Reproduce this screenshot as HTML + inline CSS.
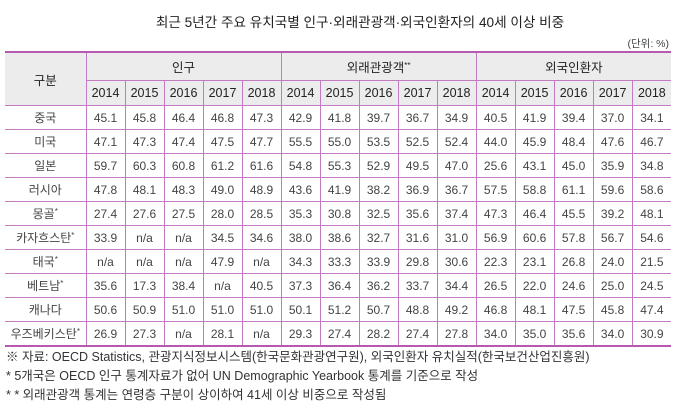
<!DOCTYPE html>
<html><head><meta charset="utf-8"><style>
body{margin:0;width:680px;height:413px;background:#fff;font-family:"Liberation Sans","Noto Sans CJK KR",sans-serif;color:#3a3a3a;overflow:hidden;position:relative}
.t{position:absolute;top:11px;left:0;width:680px;text-align:center;font-size:13.6px;color:#222;padding-left:40px;box-sizing:border-box}
.u{position:absolute;top:36px;right:11px;font-size:10.5px;color:#444}
table{position:absolute;left:5px;top:51px;border-collapse:collapse;table-layout:fixed;width:665px}
td{border:1px solid #c47ac0;text-align:center;font-size:12px;height:23px;padding:0;color:#444}
tr.h td{background:#ececec;color:#222;font-size:12.5px}
tr.h1 td{height:27px}
tr.h2 td{height:24px}
table{border-top:2px solid #b55aae;border-bottom:2px solid #b55aae}
td:first-child{border-left:none}
td.last{border-right:none}
sup{font-size:8px;vertical-align:4px}
.f{position:absolute;left:6px;font-size:12.5px;color:#333}
</style></head><body>
<div class="t">최근 5년간 주요 유치국별 인구·외래관광객·외국인환자의 40세 이상 비중</div>
<div class="u">(단위: %)</div>
<table>
<colgroup><col style="width:81px"><col span="15" style="width:39px"></colgroup>
<tr class="h h1"><td rowspan="2" style="border-left:none">구분</td><td colspan="5">인구</td><td colspan="5">외래관광객<sup>**</sup></td><td colspan="5" class="last">외국인환자</td></tr>
<tr class="h h2"><td>2014</td><td>2015</td><td>2016</td><td>2017</td><td>2018</td><td>2014</td><td>2015</td><td>2016</td><td>2017</td><td>2018</td><td>2014</td><td>2015</td><td>2016</td><td>2017</td><td class="last">2018</td></tr>
<tr><td>중국</td><td>45.1</td><td>45.8</td><td>46.4</td><td>46.8</td><td>47.3</td><td>42.9</td><td>41.8</td><td>39.7</td><td>36.7</td><td>34.9</td><td>40.5</td><td>41.9</td><td>39.4</td><td>37.0</td><td class="last">34.1</td></tr>
<tr><td>미국</td><td>47.1</td><td>47.3</td><td>47.4</td><td>47.5</td><td>47.7</td><td>55.5</td><td>55.0</td><td>53.5</td><td>52.5</td><td>52.4</td><td>44.0</td><td>45.9</td><td>48.4</td><td>47.6</td><td class="last">46.7</td></tr>
<tr><td>일본</td><td>59.7</td><td>60.3</td><td>60.8</td><td>61.2</td><td>61.6</td><td>54.8</td><td>55.3</td><td>52.9</td><td>49.5</td><td>47.0</td><td>25.6</td><td>43.1</td><td>45.0</td><td>35.9</td><td class="last">34.8</td></tr>
<tr><td>러시아</td><td>47.8</td><td>48.1</td><td>48.3</td><td>49.0</td><td>48.9</td><td>43.6</td><td>41.9</td><td>38.2</td><td>36.9</td><td>36.7</td><td>57.5</td><td>58.8</td><td>61.1</td><td>59.6</td><td class="last">58.6</td></tr>
<tr><td>몽골<sup>*</sup></td><td>27.4</td><td>27.6</td><td>27.5</td><td>28.0</td><td>28.5</td><td>35.3</td><td>30.8</td><td>32.5</td><td>35.6</td><td>37.4</td><td>47.3</td><td>46.4</td><td>45.5</td><td>39.2</td><td class="last">48.1</td></tr>
<tr><td>카자흐스탄<sup>*</sup></td><td>33.9</td><td>n/a</td><td>n/a</td><td>34.5</td><td>34.6</td><td>38.0</td><td>38.6</td><td>32.7</td><td>31.6</td><td>31.0</td><td>56.9</td><td>60.6</td><td>57.8</td><td>56.7</td><td class="last">54.6</td></tr>
<tr><td>태국<sup>*</sup></td><td>n/a</td><td>n/a</td><td>n/a</td><td>47.9</td><td>n/a</td><td>34.3</td><td>33.3</td><td>33.9</td><td>29.8</td><td>30.6</td><td>22.3</td><td>23.1</td><td>26.8</td><td>24.0</td><td class="last">21.5</td></tr>
<tr><td>베트남<sup>*</sup></td><td>35.6</td><td>17.3</td><td>38.4</td><td>n/a</td><td>40.5</td><td>37.3</td><td>36.4</td><td>36.2</td><td>33.7</td><td>34.4</td><td>26.5</td><td>22.0</td><td>24.6</td><td>25.0</td><td class="last">24.5</td></tr>
<tr><td>캐나다</td><td>50.6</td><td>50.9</td><td>51.0</td><td>51.0</td><td>51.0</td><td>50.1</td><td>51.2</td><td>50.7</td><td>48.8</td><td>49.2</td><td>46.8</td><td>48.1</td><td>47.5</td><td>45.8</td><td class="last">47.4</td></tr>
<tr><td>우즈베키스탄<sup>*</sup></td><td>26.9</td><td>27.3</td><td>n/a</td><td>28.1</td><td>n/a</td><td>29.3</td><td>27.4</td><td>28.2</td><td>27.4</td><td>27.8</td><td>34.0</td><td>35.0</td><td>35.6</td><td>34.0</td><td class="last">30.9</td></tr>
</table>
<div class="f" style="top:346px">※ 자료: OECD Statistics, 관광지식정보시스템(한국문화관광연구원), 외국인환자 유치실적(한국보건산업진흥원)</div>
<div class="f" style="top:365px">* 5개국은 OECD 인구 통계자료가 없어 UN Demographic Yearbook 통계를 기준으로 작성</div>
<div class="f" style="top:384px">* * 외래관광객 통계는 연령층 구분이 상이하여 41세 이상 비중으로 작성됨</div>
</body></html>
